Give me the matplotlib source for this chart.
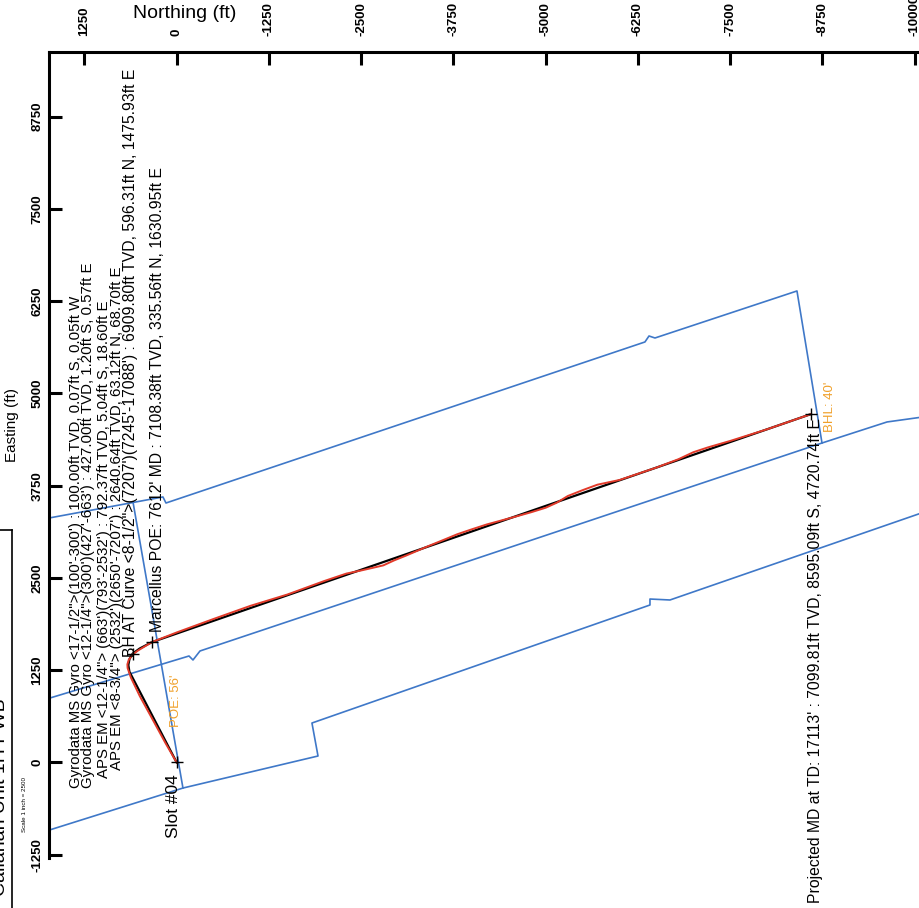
import numpy as np
import matplotlib as mpl
mpl.use('Agg')
import matplotlib.pyplot as plt
from matplotlib.lines import Line2D

plt.rcParams['font.family'] = ['Liberation Sans', 'DejaVu Sans']
plt.rcParams['axes.unicode_minus'] = False

# Northing / Easting in ft, slot #04 at origin
north_ticks = [1250, 0, -1250, -2500, -3750, -5000, -6250, -7500, -8750, -10000]
east_ticks = [-1250, 0, 1250, 2500, 3750, 5000, 6250, 7500, 8750]

# lease / hard line boundaries (blue)
upper_n = [1852, 186, 145, -6345, -6400, -6481, -8405, -8744]
upper_e = [3290, 3598, 3516, 5698, 5779, 5752, 6389, 4329]
middle_n = [1852, -167, -221, -316, -8744, -9625, -10208]
middle_e = [833, 1443, 1389, 1511, 4329, 4614, 4695]
lower_n = [1852, -85, -1915, -1833, -6413, -6413, -6684, -10208]
lower_e = [-955, -346, 88, 535, 2134, 2215, 2202, 3421]
setback_n = [592, -85]
setback_e = [3530, -346]

# plan (black) and actual survey (red)
plan_n = [0, 640, 655, 640, 596.31, 500, 335.56, -8595.09]
plan_e = [0, 1230, 1320, 1400, 1475.93, 1545, 1630.95, 4720.74]
survey_n = [0, 150, 330, 500, 620, 665, 668, 650, 600, 520, 420, 335.56,
            0, -500, -1000, -1500, -2000, -2300, -2500, -2650, -2800, -2950,
            -3100, -3400, -3650, -3800, -4000, -4200, -4600, -4800, -5000,
            -5150, -5300, -5500, -5700, -6000, -6500, -6800, -7000, -7200,
            -7500, -8000, -8595.09]
survey_e = [0, 260, 590, 900, 1150, 1280, 1330, 1390, 1460, 1520, 1580, 1630.95,
            1762, 1945, 2123, 2276, 2459, 2560, 2602, 2636, 2671, 2740,
            2800, 2928, 3030, 3092, 3160, 3225, 3334, 3390, 3452,
            3520, 3611, 3690, 3764, 3828, 3996, 4110, 4204, 4270,
            4357, 4515, 4720.74]

marker_n = [0, 596.31, 335.56, -8595.09]
marker_e = [0, 1475.93, 1630.95, 4720.74]

blue = '#3f78c8'
orange = '#f0a02a'

fig = plt.figure(figsize=(9.2, 9.08), dpi=100)
ax = fig.add_axes([49 / 920, 1 - 858 / 908, 871 / 920, 806.3 / 908])

for xs, ys in [(upper_n, upper_e), (middle_n, middle_e), (lower_n, lower_e), (setback_n, setback_e)]:
    ax.plot(xs, ys, color=blue, lw=1.2)

ax.plot(plan_n, plan_e, color='black', lw=1.6)
ax.plot(survey_n, survey_e, color='#e23a2a', lw=1.4)
ax.plot(marker_n, marker_e, '+', color='black', ms=8, mew=1.0)

ax.set_xlim(1730, -10072)
ax.set_ylim(-1294, 9631)

ax.xaxis.tick_top()
ax.set_xticks(north_ticks)
ax.set_xticklabels([str(v) for v in north_ticks], rotation=90, fontsize=9.5, fontweight='bold')
ax.set_yticks(east_ticks)
ax.set_yticklabels([str(v) for v in east_ticks], rotation=90, va='center', fontsize=9.5, fontweight='bold')
ax.tick_params(axis='x', direction='in', length=9, width=2.2, pad=11)
ax.tick_params(axis='y', direction='in', length=9, width=2.2, pad=4)

for side in ['right', 'bottom']:
    ax.spines[side].set_visible(False)
for side in ['left', 'top']:
    ax.spines[side].set_linewidth(2.2)

# well annotations
txt = dict(rotation=90, ha='center', va='bottom', fontsize=10.8, clip_on=False)
ax.text(1360, -346, 'Gyrodata MS Gyro <17-1/2">(100\'-300\') : 100.00ft TVD, 0.07ft S, 0.05ft W', **txt)
ax.text(1195, -346, 'Gyrodata MS Gyro <12-1/4">(300\')(427\'-663\') : 427.00ft TVD, 1.20ft S, 0.57ft E', **txt)
ax.text(980, -210, 'APS EM <12-1/4"> (663\')(793\'-2532\') : 792.37ft TVD, 5.04ft S, 18.60ft E', **txt)
ax.text(815, -102, 'APS EM <8-3/4"> (2532\')(2650\'-7207\') : 2640.64ft TVD, 63.12ft N, 68.70ft E', **txt)
ax.text(619, 1430, 'BH AT Curve <8-1/2">(7207\')(7245\'-17088\') : 6909.80ft TVD, 596.31ft N, 1475.93ft E', fontsize=11.3, **{k: v for k, v in txt.items() if k != 'fontsize'})
ax.text(260, 1768, 'Marcellus POE: 7612\' MD : 7108.38ft TVD, 335.56ft N, 1630.95ft E', fontsize=11.3, **{k: v for k, v in txt.items() if k != 'fontsize'})
ax.text(-8662, -1902, 'Projected MD at TD: 17113\' : 7099.81ft TVD, 8595.09ft S, 4720.74ft E', fontsize=11.3, **{k: v for k, v in txt.items() if k != 'fontsize'})
ax.text(43, -1023, 'Slot #04', rotation=90, ha='center', va='bottom', fontsize=12.5, clip_on=False)
ax.text(10, 481, "POE: 56'", rotation=90, ha='center', va='bottom', fontsize=9.5, color=orange)
ax.text(-8850, 4478, "BHL: 40'", rotation=90, ha='center', va='bottom', fontsize=9.5, color=orange)

# axis titles
fig.text(184.5 / 920, 1 - 13 / 908, 'Northing (ft)', ha='center', va='center', fontsize=14)
fig.text(12.5 / 920, 1 - 425 / 908, 'Easting (ft)', ha='center', va='center', rotation=90, fontsize=11)

# title block at the left edge
fig.add_artist(Line2D([12 / 920, 12 / 920], [0, 1 - 530 / 908], color='black', lw=1.2))
fig.add_artist(Line2D([0, 12 / 920], [1 - 530 / 908, 1 - 530 / 908], color='black', lw=1.2))
fig.text(1 / 920, 1 - 797 / 908, 'Callahan Unit 1H PWB', ha='center', va='center', rotation=90, fontsize=14)
fig.text(24.5 / 920, 1 - 805 / 908, 'Scale 1 inch = 2500', ha='center', va='center', rotation=90, fontsize=4.5)

fig.savefig('out.png', dpi=100)
